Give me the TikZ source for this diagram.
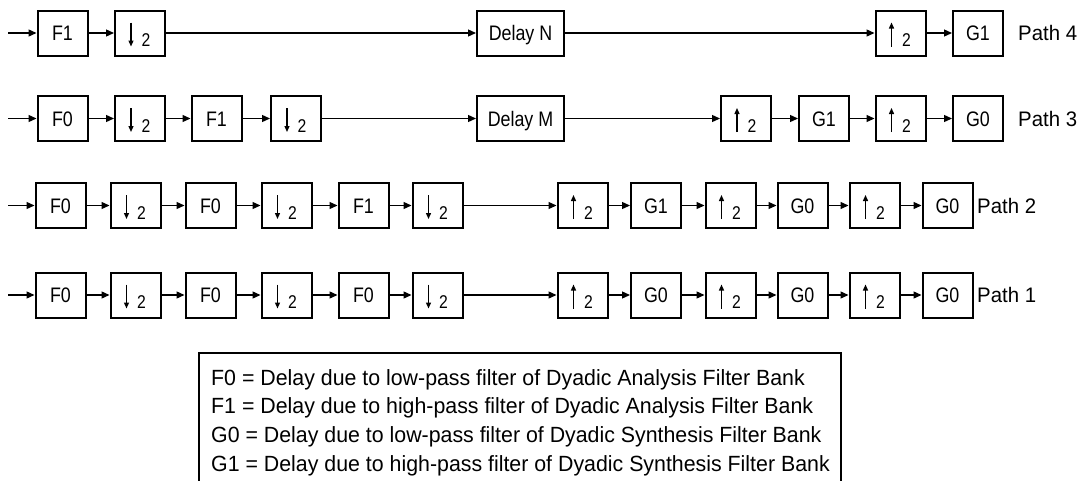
\documentclass[tikz,border=0pt]{standalone}
\usepackage{fontspec}
\setmainfont{Liberation Sans}[FakeStretch=0.85]
\newfontfamily\widefont{Liberation Sans}[FakeStretch=0.97]
\usetikzlibrary{arrows.meta,calc}
\begin{document}
\begin{tikzpicture}[x=1pt,y=-1pt,
  blk/.style={draw, line width=2pt, minimum width=50pt, minimum height=45pt, inner sep=0pt,
     text height=15pt, text depth=0pt, font=\fontsize{21}{25}\selectfont},
  symarr/.style={line width=1.3pt, -{Triangle[length=6pt,width=5pt]}},
  dn/.style={blk, path picture={
     \draw[symarr] ($(path picture bounding box.center)+(-9,-10.5)$) -- ++(0,24);
     \node[anchor=base, inner sep=0pt, font=\fontsize{18.5}{20}\selectfont] at ($(path picture bounding box.center)+(6,13.5)$) {2};}},
  up/.style={blk, path picture={
     \draw[symarr] ($(path picture bounding box.center)+(-9,13.5)$) -- ++(0,-24);
     \node[anchor=base, inner sep=0pt, font=\fontsize{18.5}{20}\selectfont] at ($(path picture bounding box.center)+(6,13.5)$) {2};}},
  dly/.style={blk, minimum width=87pt},
  conn/.style={line width=1.3pt, -{Triangle[length=8pt,width=7pt]}},
  pathlbl/.style={anchor=base west, inner sep=0pt, font=\widefont\fontsize{21}{25}\selectfont},
  legtxt/.style={anchor=base west, inner sep=0pt, font=\widefont\fontsize{22}{26}\selectfont}]
\useasboundingbox (0,0) rectangle (1082,480);

% Path 4
\coordinate (i4) at (8,33);
\node[blk] (a1) at (62.5,33) {F1};
\node[dn]  (a2) at (140,33) {};
\node[dly] (a3) at (520.5,33) {Delay N};
\node[up]  (a4) at (900.5,33) {};
\node[blk] (a5) at (978,33) {G1};
\node[pathlbl] (p4) at (1018,40) {Path 4};
\draw[conn] (i4) -- (a1);
\draw[conn] (a1) -- (a2);
\draw[conn] (a2) -- (a3);
\draw[conn] (a3) -- (a4);
\draw[conn] (a4) -- (a5);

% Path 3
\coordinate (i3) at (8,118.5);
\node[blk] (b1) at (62.5,118.5) {F0};
\node[dn]  (b2) at (140,118.5) {};
\node[blk] (b3) at (216.5,118.5) {F1};
\node[dn]  (b4) at (296,118.5) {};
\node[dly] (b5) at (520.5,118.5) {Delay M};
\node[up]  (b6) at (746,118.5) {};
\node[blk] (b7) at (824,118.5) {G1};
\node[up]  (b8) at (900.5,118.5) {};
\node[blk] (b9) at (978,118.5) {G0};
\node[pathlbl] (p3) at (1018,126) {Path 3};
\draw[conn] (i3) -- (b1);
\draw[conn] (b1) -- (b2);
\draw[conn] (b2) -- (b3);
\draw[conn] (b3) -- (b4);
\draw[conn] (b4) -- (b5);
\draw[conn] (b5) -- (b6);
\draw[conn] (b6) -- (b7);
\draw[conn] (b7) -- (b8);
\draw[conn] (b8) -- (b9);

% Path 2
\coordinate (i2) at (8,205.5);
\node[blk] (c1) at (60.5,205.5) {F0};
\node[dn]  (c2) at (135.5,205.5) {};
\node[blk] (c3) at (210.5,205.5) {F0};
\node[dn]  (c4) at (286.5,205.5) {};
\node[blk] (c5) at (363.5,205.5) {F1};
\node[dn]  (c6) at (437.5,205.5) {};
\node[up]  (c7) at (582.5,205.5) {};
\node[blk] (c8) at (656,205.5) {G1};
\node[up]  (c9) at (730.5,205.5) {};
\node[blk] (c10) at (802.5,205.5) {G0};
\node[up]  (c11) at (874.5,205.5) {};
\node[blk] (c12) at (947.5,205.5) {G0};
\node[pathlbl] (p2) at (977,213) {Path 2};
\draw[conn] (i2) -- (c1);
\draw[conn] (c1) -- (c2);
\draw[conn] (c2) -- (c3);
\draw[conn] (c3) -- (c4);
\draw[conn] (c4) -- (c5);
\draw[conn] (c5) -- (c6);
\draw[conn] (c6) -- (c7);
\draw[conn] (c7) -- (c8);
\draw[conn] (c8) -- (c9);
\draw[conn] (c9) -- (c10);
\draw[conn] (c10) -- (c11);
\draw[conn] (c11) -- (c12);

% Path 1
\coordinate (i1) at (8,295);
\node[blk] (d1) at (60.5,295) {F0};
\node[dn]  (d2) at (135.5,295) {};
\node[blk] (d3) at (210.5,295) {F0};
\node[dn]  (d4) at (286.5,295) {};
\node[blk] (d5) at (363.5,295) {F0};
\node[dn]  (d6) at (437.5,295) {};
\node[up]  (d7) at (582.5,295) {};
\node[blk] (d8) at (656,295) {G0};
\node[up]  (d9) at (730.5,295) {};
\node[blk] (d10) at (802.5,295) {G0};
\node[up]  (d11) at (874.5,295) {};
\node[blk] (d12) at (947.5,295) {G0};
\node[pathlbl] (p1) at (977,302.5) {Path 1};
\draw[conn] (i1) -- (d1);
\draw[conn] (d1) -- (d2);
\draw[conn] (d2) -- (d3);
\draw[conn] (d3) -- (d4);
\draw[conn] (d4) -- (d5);
\draw[conn] (d5) -- (d6);
\draw[conn] (d6) -- (d7);
\draw[conn] (d7) -- (d8);
\draw[conn] (d8) -- (d9);
\draw[conn] (d9) -- (d10);
\draw[conn] (d10) -- (d11);
\draw[conn] (d11) -- (d12);

% Legend
\node[draw, line width=2pt, anchor=north west, minimum width=642pt, minimum height=150pt, inner sep=0pt] (leg) at (198,352) {};
\node[legtxt] (l1) at (211,385) {F0 = Delay due to low-pass filter of Dyadic Analysis Filter Bank};
\node[legtxt] (l2) at (211,413.7) {F1 = Delay due to high-pass filter of Dyadic Analysis Filter Bank};
\node[legtxt] (l3) at (211,442.3) {G0 = Delay due to low-pass filter of Dyadic Synthesis Filter Bank};
\node[legtxt] (l4) at (211,471) {G1 = Delay due to high-pass filter of Dyadic Synthesis Filter Bank};
\end{tikzpicture}
\end{document}
